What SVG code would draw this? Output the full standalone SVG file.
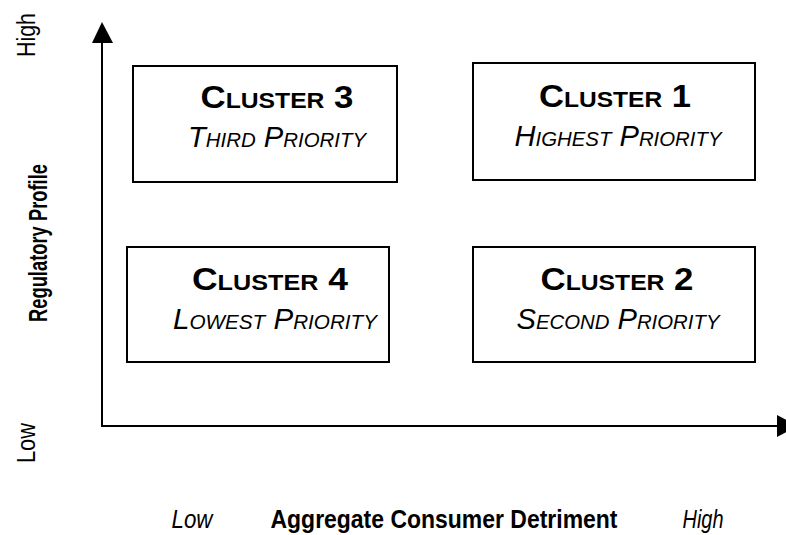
<svg xmlns="http://www.w3.org/2000/svg" width="786" height="535" viewBox="0 0 786 535">
<style>
text{font-family:"Liberation Sans Narrow","Liberation Sans",Arial,sans-serif;fill:#000}
.t{font-weight:bold;font-size:31px;text-anchor:middle}
.s{font-style:italic;font-size:30px;text-anchor:middle}
.sm{font-size:22px}
.si{font-size:21px}
.box{fill:#fff;stroke:#000;stroke-width:2}
.ax{stroke:#000;stroke-width:2;fill:none}
</style>
<rect width="786" height="535" fill="#fff"/>
<g id="connectors">
<line class="ax" x1="102" y1="40" x2="102" y2="426"/>
<line class="ax" x1="101" y1="426" x2="778" y2="426"/>
<polygon points="102,22 92,43 113,43" fill="#000"/>
<polygon points="798,426 777,415 777,437" fill="#000"/>
</g>
<g id="cluster3">
<rect class="box" x="133" y="66" width="264" height="116"/>
<text class="t" x="277" y="108" textLength="153" lengthAdjust="spacingAndGlyphs">C<tspan class="sm">LUSTER</tspan> 3</text>
<text class="s" x="277" y="147" textLength="178" lengthAdjust="spacingAndGlyphs">T<tspan class="si">HIRD</tspan> P<tspan class="si">RIORITY</tspan></text>
</g>
<g id="cluster1">
<rect class="box" x="473" y="63" width="282" height="117"/>
<text class="t" x="615" y="107" textLength="152" lengthAdjust="spacingAndGlyphs">C<tspan class="sm">LUSTER</tspan> 1</text>
<text class="s" x="618" y="146" textLength="207" lengthAdjust="spacingAndGlyphs">H<tspan class="si">IGHEST</tspan> P<tspan class="si">RIORITY</tspan></text>
</g>
<g id="cluster4">
<rect class="box" x="127" y="247" width="262" height="115"/>
<text class="t" x="270" y="290" textLength="156" lengthAdjust="spacingAndGlyphs">C<tspan class="sm">LUSTER</tspan> 4</text>
<text class="s" x="275" y="329" textLength="204" lengthAdjust="spacingAndGlyphs">L<tspan class="si">OWEST</tspan> P<tspan class="si">RIORITY</tspan></text>
</g>
<g id="cluster2">
<rect class="box" x="473" y="247" width="282" height="115"/>
<text class="t" x="617" y="290" textLength="153" lengthAdjust="spacingAndGlyphs">C<tspan class="sm">LUSTER</tspan> 2</text>
<text class="s" x="618" y="329" textLength="203" lengthAdjust="spacingAndGlyphs">S<tspan class="si">ECOND</tspan> P<tspan class="si">RIORITY</tspan></text>
</g>
<g id="labels">
<text transform="translate(35,35) rotate(-90)" font-size="26" text-anchor="middle" textLength="44" lengthAdjust="spacingAndGlyphs">High</text>
<text transform="translate(35,443) rotate(-90)" font-size="26" text-anchor="middle" textLength="40" lengthAdjust="spacingAndGlyphs">Low</text>
<text transform="translate(47,243) rotate(-90)" font-size="25" font-weight="bold" text-anchor="middle" textLength="158" lengthAdjust="spacingAndGlyphs">Regulatory Profile</text>
<text x="192" y="528" font-size="26" font-style="italic" text-anchor="middle" textLength="41" lengthAdjust="spacingAndGlyphs">Low</text>
<text x="444" y="528" font-size="26" font-weight="bold" text-anchor="middle" textLength="347" lengthAdjust="spacingAndGlyphs">Aggregate Consumer Detriment</text>
<text x="703" y="528" font-size="26" font-style="italic" text-anchor="middle" textLength="41" lengthAdjust="spacingAndGlyphs">High</text>
</g>
</svg>
